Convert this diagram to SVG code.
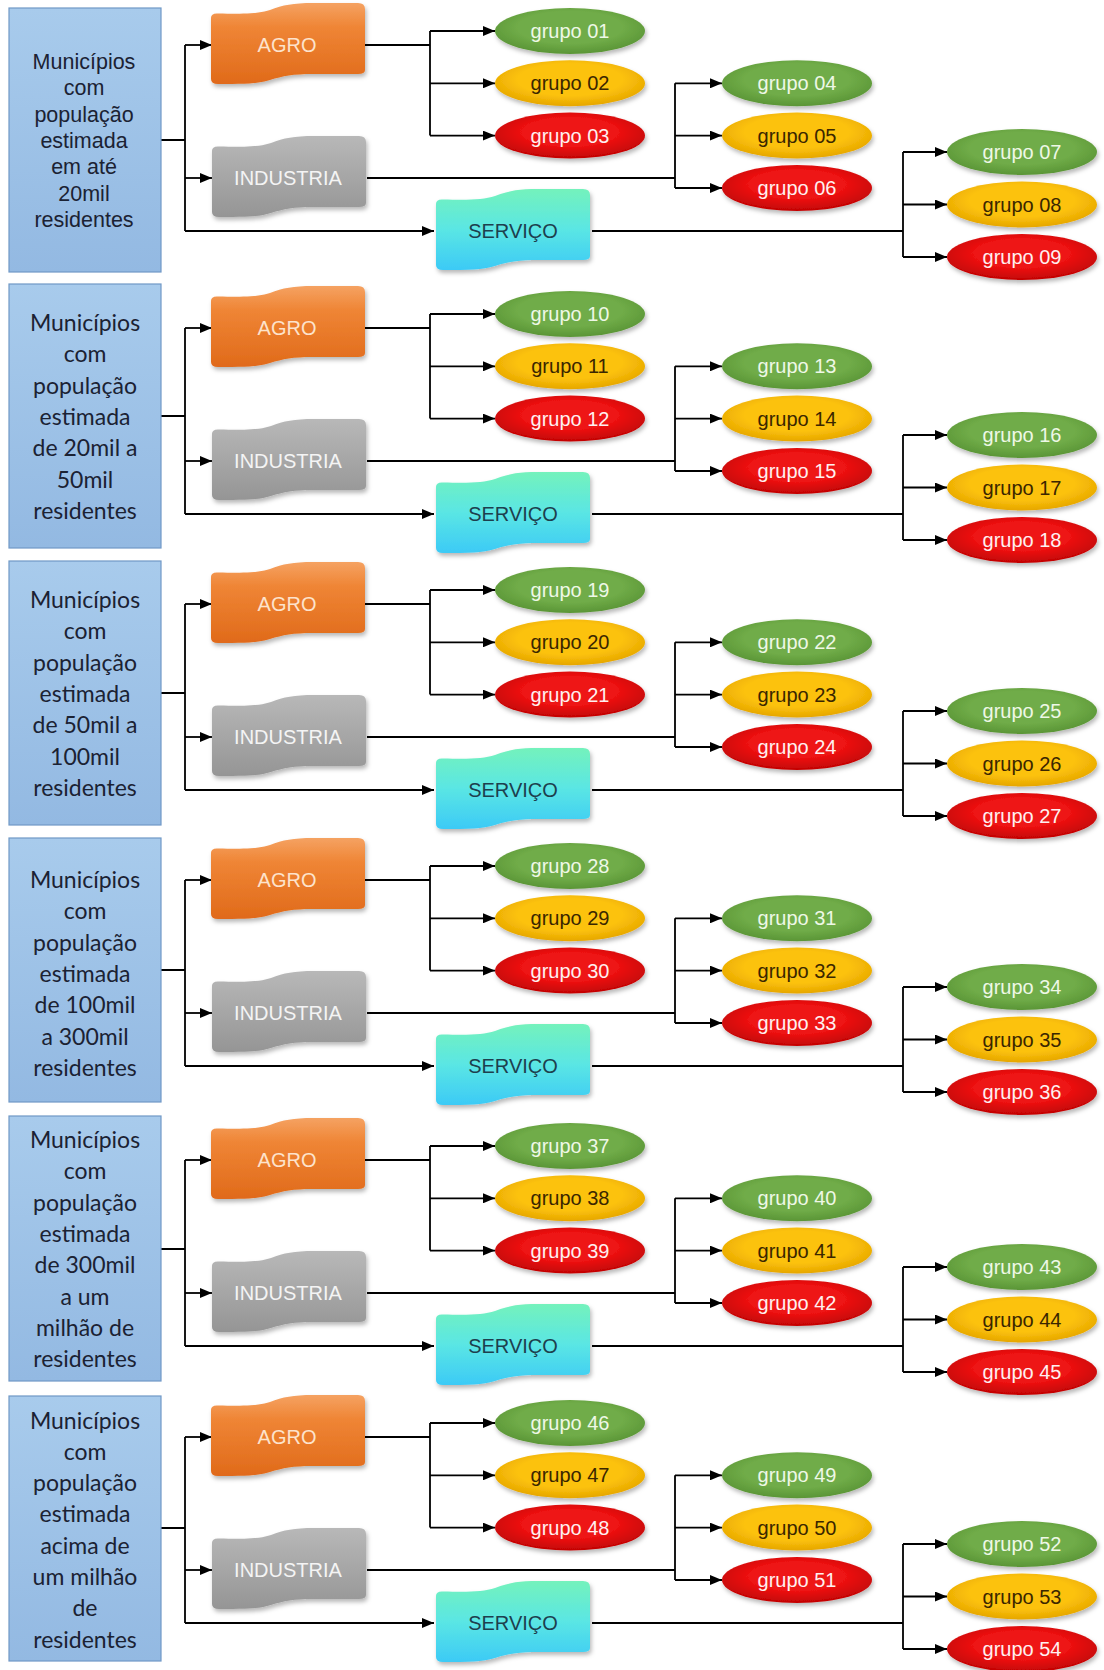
<svg xmlns="http://www.w3.org/2000/svg" xmlns:xlink="http://www.w3.org/1999/xlink" width="1104" height="1670" viewBox="0 0 1104 1670">
<style>
.box{fill:url(#gBox);stroke:#7098c6;stroke-width:1.2}
.bt1{font-family:"Liberation Sans",Arial,sans-serif;font-size:21.5px;fill:#1b2233;text-anchor:middle}
.bt2{font-family:Lato,"Liberation Sans",sans-serif;font-size:23px;fill:#1b2233;text-anchor:middle}
.lbl{font-family:"Liberation Sans",Arial,sans-serif;font-size:20px;text-anchor:middle}
.eg{fill:url(#gGreen);filter:url(#sh)}
.ey{fill:url(#gYellow);filter:url(#sh)}
.er{fill:url(#gRed);filter:url(#sh)}
.tg{fill:#eef8e6}.ty{fill:#3a2600}.tr{fill:#fff0f0}
.agro{fill:url(#gAgro);filter:url(#sh)}
.ind{fill:url(#gInd);filter:url(#sh)}
.serv{fill:url(#gServ);filter:url(#sh)}
.ta{fill:#fde3cc}.ti{fill:#f4f4f4}.ts{fill:#1d3f4e}
.ln{fill:none;stroke:#000;stroke-width:1.8}
.ar{marker-end:url(#arr)}
</style>
<defs>
<linearGradient id="gBox" x1="0" y1="0" x2="0" y2="1"><stop offset="0" stop-color="#a8cbec"/><stop offset="1" stop-color="#93b9e2"/></linearGradient>
<radialGradient id="gGreen" cx="0.5" cy="0.42" r="0.58"><stop offset="0.6" stop-color="#70ac48"/><stop offset="1" stop-color="#5a9536"/></radialGradient>
<radialGradient id="gYellow" cx="0.5" cy="0.42" r="0.58"><stop offset="0.6" stop-color="#fcc20c"/><stop offset="1" stop-color="#e6a600"/></radialGradient>
<radialGradient id="gRed" cx="0.5" cy="0.42" r="0.58"><stop offset="0.55" stop-color="#ee1212"/><stop offset="1" stop-color="#c20404"/></radialGradient>
<linearGradient id="gAgro" x1="0" y1="0" x2="0" y2="1"><stop offset="0" stop-color="#f5a262"/><stop offset="0.3" stop-color="#ef8535"/><stop offset="1" stop-color="#e06a1a"/></linearGradient>
<linearGradient id="gInd" x1="0" y1="0" x2="0" y2="1"><stop offset="0" stop-color="#b8b8b8"/><stop offset="1" stop-color="#959595"/></linearGradient>
<linearGradient id="gServ" x1="0" y1="0" x2="0" y2="1"><stop offset="0" stop-color="#74f2bc"/><stop offset="0.5" stop-color="#5ae6e4"/><stop offset="1" stop-color="#3ccaf6"/></linearGradient>
<filter id="sh" x="-15%" y="-25%" width="135%" height="160%"><feDropShadow dx="1.5" dy="3" stdDeviation="2.2" flood-color="#000" flood-opacity="0.28"/></filter>
<marker id="arr" viewBox="0 0 12 10" refX="12" refY="5" markerWidth="12" markerHeight="10" markerUnits="userSpaceOnUse" orient="auto"><path d="M0,0 L12,5 L0,10 Z" fill="#000"/></marker>
<path id="tape" d="M-77,-27 Q-77,-32 -70,-31.5 C-45,-31 -30,-31 -18,-35 C-5,-40 5,-42 25,-42 L70,-42 Q77,-42 77,-36 L77,25 Q77,29 70,29 L25,29 C5,29 -5,31 -18,35 C-30,39 -45,39 -70,39 Q-77,39 -77,34 Z"/>
</defs>
<rect width="1104" height="1670" fill="#fff"/>

<g id="connectors">
<g transform="translate(0,31)">
<path class="ln" d="M161,109 H185 M185,14 V200 M365,14 H430 M430,0 V104.6 M367,147 H675 M675,52.3 V157 M592,200 H903 M903,121 V226"/>
<path class="ln ar" d="M185,14 H212"/><path class="ln ar" d="M185,147 H212"/><path class="ln ar" d="M185,200 H434"/>
<path class="ln ar" d="M430,0 H495"/><path class="ln ar" d="M430,52.3 H495"/><path class="ln ar" d="M430,104.6 H495"/>
<path class="ln ar" d="M675,52.3 H722"/><path class="ln ar" d="M675,104.6 H722"/><path class="ln ar" d="M675,157 H722"/>
<path class="ln ar" d="M903,121 H947"/><path class="ln ar" d="M903,173.5 H947"/><path class="ln ar" d="M903,226 H947"/>
</g>
<g transform="translate(0,314)">
<path class="ln" d="M161,102 H185 M185,14 V200 M365,14 H430 M430,0 V104.6 M367,147 H675 M675,52.3 V157 M592,200 H903 M903,121 V226"/>
<path class="ln ar" d="M185,14 H212"/><path class="ln ar" d="M185,147 H212"/><path class="ln ar" d="M185,200 H434"/>
<path class="ln ar" d="M430,0 H495"/><path class="ln ar" d="M430,52.3 H495"/><path class="ln ar" d="M430,104.6 H495"/>
<path class="ln ar" d="M675,52.3 H722"/><path class="ln ar" d="M675,104.6 H722"/><path class="ln ar" d="M675,157 H722"/>
<path class="ln ar" d="M903,121 H947"/><path class="ln ar" d="M903,173.5 H947"/><path class="ln ar" d="M903,226 H947"/>
</g>
<g transform="translate(0,590)">
<path class="ln" d="M161,103 H185 M185,14 V200 M365,14 H430 M430,0 V104.6 M367,147 H675 M675,52.3 V157 M592,200 H903 M903,121 V226"/>
<path class="ln ar" d="M185,14 H212"/><path class="ln ar" d="M185,147 H212"/><path class="ln ar" d="M185,200 H434"/>
<path class="ln ar" d="M430,0 H495"/><path class="ln ar" d="M430,52.3 H495"/><path class="ln ar" d="M430,104.6 H495"/>
<path class="ln ar" d="M675,52.3 H722"/><path class="ln ar" d="M675,104.6 H722"/><path class="ln ar" d="M675,157 H722"/>
<path class="ln ar" d="M903,121 H947"/><path class="ln ar" d="M903,173.5 H947"/><path class="ln ar" d="M903,226 H947"/>
</g>
<g transform="translate(0,866)">
<path class="ln" d="M161,104 H185 M185,14 V200 M365,14 H430 M430,0 V104.6 M367,147 H675 M675,52.3 V157 M592,200 H903 M903,121 V226"/>
<path class="ln ar" d="M185,14 H212"/><path class="ln ar" d="M185,147 H212"/><path class="ln ar" d="M185,200 H434"/>
<path class="ln ar" d="M430,0 H495"/><path class="ln ar" d="M430,52.3 H495"/><path class="ln ar" d="M430,104.6 H495"/>
<path class="ln ar" d="M675,52.3 H722"/><path class="ln ar" d="M675,104.6 H722"/><path class="ln ar" d="M675,157 H722"/>
<path class="ln ar" d="M903,121 H947"/><path class="ln ar" d="M903,173.5 H947"/><path class="ln ar" d="M903,226 H947"/>
</g>
<g transform="translate(0,1146)">
<path class="ln" d="M161,103 H185 M185,14 V200 M365,14 H430 M430,0 V104.6 M367,147 H675 M675,52.3 V157 M592,200 H903 M903,121 V226"/>
<path class="ln ar" d="M185,14 H212"/><path class="ln ar" d="M185,147 H212"/><path class="ln ar" d="M185,200 H434"/>
<path class="ln ar" d="M430,0 H495"/><path class="ln ar" d="M430,52.3 H495"/><path class="ln ar" d="M430,104.6 H495"/>
<path class="ln ar" d="M675,52.3 H722"/><path class="ln ar" d="M675,104.6 H722"/><path class="ln ar" d="M675,157 H722"/>
<path class="ln ar" d="M903,121 H947"/><path class="ln ar" d="M903,173.5 H947"/><path class="ln ar" d="M903,226 H947"/>
</g>
<g transform="translate(0,1423)">
<path class="ln" d="M161,105 H185 M185,14 V200 M365,14 H430 M430,0 V104.6 M367,147 H675 M675,52.3 V157 M592,200 H903 M903,121 V226"/>
<path class="ln ar" d="M185,14 H212"/><path class="ln ar" d="M185,147 H212"/><path class="ln ar" d="M185,200 H434"/>
<path class="ln ar" d="M430,0 H495"/><path class="ln ar" d="M430,52.3 H495"/><path class="ln ar" d="M430,104.6 H495"/>
<path class="ln ar" d="M675,52.3 H722"/><path class="ln ar" d="M675,104.6 H722"/><path class="ln ar" d="M675,157 H722"/>
<path class="ln ar" d="M903,121 H947"/><path class="ln ar" d="M903,173.5 H947"/><path class="ln ar" d="M903,226 H947"/>
</g>
</g>

<!-- Left boxes -->
<g id="mun1"><rect class="box" x="9" y="8" width="152" height="264"/>
<text class="bt1" x="84" y="69"><tspan x="84">Municípios</tspan><tspan x="84" dy="26.3">com</tspan><tspan x="84" dy="26.3">população</tspan><tspan x="84" dy="26.3">estimada</tspan><tspan x="84" dy="26.3">em até</tspan><tspan x="84" dy="26.3">20mil</tspan><tspan x="84" dy="26.3">residentes</tspan></text></g>
<g id="mun2"><rect class="box" x="9" y="284" width="152" height="264"/>
<text class="bt2" x="85" y="331"><tspan x="85">Municípios</tspan><tspan x="85" dy="31.3">com</tspan><tspan x="85" dy="31.3">população</tspan><tspan x="85" dy="31.3">estimada</tspan><tspan x="85" dy="31.3">de 20mil a</tspan><tspan x="85" dy="31.3">50mil</tspan><tspan x="85" dy="31.3">residentes</tspan></text></g>
<g id="mun3"><rect class="box" x="9" y="561" width="152" height="264"/>
<text class="bt2" x="85" y="608"><tspan x="85">Municípios</tspan><tspan x="85" dy="31.3">com</tspan><tspan x="85" dy="31.3">população</tspan><tspan x="85" dy="31.3">estimada</tspan><tspan x="85" dy="31.3">de 50mil a</tspan><tspan x="85" dy="31.3">100mil</tspan><tspan x="85" dy="31.3">residentes</tspan></text></g>
<g id="mun4"><rect class="box" x="9" y="838" width="152" height="264"/>
<text class="bt2" x="85" y="888"><tspan x="85">Municípios</tspan><tspan x="85" dy="31.3">com</tspan><tspan x="85" dy="31.3">população</tspan><tspan x="85" dy="31.3">estimada</tspan><tspan x="85" dy="31.3">de 100mil</tspan><tspan x="85" dy="31.3">a 300mil</tspan><tspan x="85" dy="31.3">residentes</tspan></text></g>
<g id="mun5"><rect class="box" x="9" y="1116" width="152" height="265"/>
<text class="bt2" x="85" y="1148"><tspan x="85">Municípios</tspan><tspan x="85" dy="31.3">com</tspan><tspan x="85" dy="31.3">população</tspan><tspan x="85" dy="31.3">estimada</tspan><tspan x="85" dy="31.3">de 300mil</tspan><tspan x="85" dy="31.3">a um</tspan><tspan x="85" dy="31.3">milhão de</tspan><tspan x="85" dy="31.3">residentes</tspan></text></g>
<g id="mun6"><rect class="box" x="9" y="1396" width="152" height="265"/>
<text class="bt2" x="85" y="1428.5"><tspan x="85">Municípios</tspan><tspan x="85" dy="31.3">com</tspan><tspan x="85" dy="31.3">população</tspan><tspan x="85" dy="31.3">estimada</tspan><tspan x="85" dy="31.3">acima de</tspan><tspan x="85" dy="31.3">um milhão</tspan><tspan x="85" dy="31.3">de</tspan><tspan x="85" dy="31.3">residentes</tspan></text></g>

<!-- Section 1 -->
<g transform="translate(0,31)">
<g id="agro1"><use href="#tape" class="agro" x="288" y="14"/><text class="lbl ta" x="287" y="21">AGRO</text></g>
<g id="industria1"><use href="#tape" class="ind" x="289" y="147"/><text class="lbl ti" x="288" y="154">INDUSTRIA</text></g>
<g id="servico1"><use href="#tape" class="serv" x="513" y="200"/><text class="lbl ts" x="513" y="207">SERVIÇO</text></g>
<g id="grupo01"><ellipse class="eg" cx="570" cy="0" rx="75" ry="23"/><text class="lbl tg" x="570" y="7">grupo 01</text></g>
<g id="grupo02"><ellipse class="ey" cx="570" cy="52.3" rx="75" ry="23"/><text class="lbl ty" x="570" y="59.3">grupo 02</text></g>
<g id="grupo03"><ellipse class="er" cx="570" cy="104.6" rx="75" ry="23"/><text class="lbl tr" x="570" y="111.6">grupo 03</text></g>
<g id="grupo04"><ellipse class="eg" cx="797" cy="52.3" rx="75" ry="23"/><text class="lbl tg" x="797" y="59.3">grupo 04</text></g>
<g id="grupo05"><ellipse class="ey" cx="797" cy="104.6" rx="75" ry="23"/><text class="lbl ty" x="797" y="111.6">grupo 05</text></g>
<g id="grupo06"><ellipse class="er" cx="797" cy="157" rx="75" ry="23"/><text class="lbl tr" x="797" y="164">grupo 06</text></g>
<g id="grupo07"><ellipse class="eg" cx="1022" cy="121" rx="75" ry="23"/><text class="lbl tg" x="1022" y="128">grupo 07</text></g>
<g id="grupo08"><ellipse class="ey" cx="1022" cy="173.5" rx="75" ry="23"/><text class="lbl ty" x="1022" y="180.5">grupo 08</text></g>
<g id="grupo09"><ellipse class="er" cx="1022" cy="226" rx="75" ry="23"/><text class="lbl tr" x="1022" y="233">grupo 09</text></g>
</g>

<!-- Section 2 -->
<g transform="translate(0,314)">
<g id="agro2"><use href="#tape" class="agro" x="288" y="14"/><text class="lbl ta" x="287" y="21">AGRO</text></g>
<g id="industria2"><use href="#tape" class="ind" x="289" y="147"/><text class="lbl ti" x="288" y="154">INDUSTRIA</text></g>
<g id="servico2"><use href="#tape" class="serv" x="513" y="200"/><text class="lbl ts" x="513" y="207">SERVIÇO</text></g>
<g id="grupo10"><ellipse class="eg" cx="570" cy="0" rx="75" ry="23"/><text class="lbl tg" x="570" y="7">grupo 10</text></g>
<g id="grupo11"><ellipse class="ey" cx="570" cy="52.3" rx="75" ry="23"/><text class="lbl ty" x="570" y="59.3">grupo 11</text></g>
<g id="grupo12"><ellipse class="er" cx="570" cy="104.6" rx="75" ry="23"/><text class="lbl tr" x="570" y="111.6">grupo 12</text></g>
<g id="grupo13"><ellipse class="eg" cx="797" cy="52.3" rx="75" ry="23"/><text class="lbl tg" x="797" y="59.3">grupo 13</text></g>
<g id="grupo14"><ellipse class="ey" cx="797" cy="104.6" rx="75" ry="23"/><text class="lbl ty" x="797" y="111.6">grupo 14</text></g>
<g id="grupo15"><ellipse class="er" cx="797" cy="157" rx="75" ry="23"/><text class="lbl tr" x="797" y="164">grupo 15</text></g>
<g id="grupo16"><ellipse class="eg" cx="1022" cy="121" rx="75" ry="23"/><text class="lbl tg" x="1022" y="128">grupo 16</text></g>
<g id="grupo17"><ellipse class="ey" cx="1022" cy="173.5" rx="75" ry="23"/><text class="lbl ty" x="1022" y="180.5">grupo 17</text></g>
<g id="grupo18"><ellipse class="er" cx="1022" cy="226" rx="75" ry="23"/><text class="lbl tr" x="1022" y="233">grupo 18</text></g>
</g>

<!-- Section 3 -->
<g transform="translate(0,590)">
<g id="agro3"><use href="#tape" class="agro" x="288" y="14"/><text class="lbl ta" x="287" y="21">AGRO</text></g>
<g id="industria3"><use href="#tape" class="ind" x="289" y="147"/><text class="lbl ti" x="288" y="154">INDUSTRIA</text></g>
<g id="servico3"><use href="#tape" class="serv" x="513" y="200"/><text class="lbl ts" x="513" y="207">SERVIÇO</text></g>
<g id="grupo19"><ellipse class="eg" cx="570" cy="0" rx="75" ry="23"/><text class="lbl tg" x="570" y="7">grupo 19</text></g>
<g id="grupo20"><ellipse class="ey" cx="570" cy="52.3" rx="75" ry="23"/><text class="lbl ty" x="570" y="59.3">grupo 20</text></g>
<g id="grupo21"><ellipse class="er" cx="570" cy="104.6" rx="75" ry="23"/><text class="lbl tr" x="570" y="111.6">grupo 21</text></g>
<g id="grupo22"><ellipse class="eg" cx="797" cy="52.3" rx="75" ry="23"/><text class="lbl tg" x="797" y="59.3">grupo 22</text></g>
<g id="grupo23"><ellipse class="ey" cx="797" cy="104.6" rx="75" ry="23"/><text class="lbl ty" x="797" y="111.6">grupo 23</text></g>
<g id="grupo24"><ellipse class="er" cx="797" cy="157" rx="75" ry="23"/><text class="lbl tr" x="797" y="164">grupo 24</text></g>
<g id="grupo25"><ellipse class="eg" cx="1022" cy="121" rx="75" ry="23"/><text class="lbl tg" x="1022" y="128">grupo 25</text></g>
<g id="grupo26"><ellipse class="ey" cx="1022" cy="173.5" rx="75" ry="23"/><text class="lbl ty" x="1022" y="180.5">grupo 26</text></g>
<g id="grupo27"><ellipse class="er" cx="1022" cy="226" rx="75" ry="23"/><text class="lbl tr" x="1022" y="233">grupo 27</text></g>
</g>

<!-- Section 4 -->
<g transform="translate(0,866)">
<g id="agro4"><use href="#tape" class="agro" x="288" y="14"/><text class="lbl ta" x="287" y="21">AGRO</text></g>
<g id="industria4"><use href="#tape" class="ind" x="289" y="147"/><text class="lbl ti" x="288" y="154">INDUSTRIA</text></g>
<g id="servico4"><use href="#tape" class="serv" x="513" y="200"/><text class="lbl ts" x="513" y="207">SERVIÇO</text></g>
<g id="grupo28"><ellipse class="eg" cx="570" cy="0" rx="75" ry="23"/><text class="lbl tg" x="570" y="7">grupo 28</text></g>
<g id="grupo29"><ellipse class="ey" cx="570" cy="52.3" rx="75" ry="23"/><text class="lbl ty" x="570" y="59.3">grupo 29</text></g>
<g id="grupo30"><ellipse class="er" cx="570" cy="104.6" rx="75" ry="23"/><text class="lbl tr" x="570" y="111.6">grupo 30</text></g>
<g id="grupo31"><ellipse class="eg" cx="797" cy="52.3" rx="75" ry="23"/><text class="lbl tg" x="797" y="59.3">grupo 31</text></g>
<g id="grupo32"><ellipse class="ey" cx="797" cy="104.6" rx="75" ry="23"/><text class="lbl ty" x="797" y="111.6">grupo 32</text></g>
<g id="grupo33"><ellipse class="er" cx="797" cy="157" rx="75" ry="23"/><text class="lbl tr" x="797" y="164">grupo 33</text></g>
<g id="grupo34"><ellipse class="eg" cx="1022" cy="121" rx="75" ry="23"/><text class="lbl tg" x="1022" y="128">grupo 34</text></g>
<g id="grupo35"><ellipse class="ey" cx="1022" cy="173.5" rx="75" ry="23"/><text class="lbl ty" x="1022" y="180.5">grupo 35</text></g>
<g id="grupo36"><ellipse class="er" cx="1022" cy="226" rx="75" ry="23"/><text class="lbl tr" x="1022" y="233">grupo 36</text></g>
</g>

<!-- Section 5 -->
<g transform="translate(0,1146)">
<g id="agro5"><use href="#tape" class="agro" x="288" y="14"/><text class="lbl ta" x="287" y="21">AGRO</text></g>
<g id="industria5"><use href="#tape" class="ind" x="289" y="147"/><text class="lbl ti" x="288" y="154">INDUSTRIA</text></g>
<g id="servico5"><use href="#tape" class="serv" x="513" y="200"/><text class="lbl ts" x="513" y="207">SERVIÇO</text></g>
<g id="grupo37"><ellipse class="eg" cx="570" cy="0" rx="75" ry="23"/><text class="lbl tg" x="570" y="7">grupo 37</text></g>
<g id="grupo38"><ellipse class="ey" cx="570" cy="52.3" rx="75" ry="23"/><text class="lbl ty" x="570" y="59.3">grupo 38</text></g>
<g id="grupo39"><ellipse class="er" cx="570" cy="104.6" rx="75" ry="23"/><text class="lbl tr" x="570" y="111.6">grupo 39</text></g>
<g id="grupo40"><ellipse class="eg" cx="797" cy="52.3" rx="75" ry="23"/><text class="lbl tg" x="797" y="59.3">grupo 40</text></g>
<g id="grupo41"><ellipse class="ey" cx="797" cy="104.6" rx="75" ry="23"/><text class="lbl ty" x="797" y="111.6">grupo 41</text></g>
<g id="grupo42"><ellipse class="er" cx="797" cy="157" rx="75" ry="23"/><text class="lbl tr" x="797" y="164">grupo 42</text></g>
<g id="grupo43"><ellipse class="eg" cx="1022" cy="121" rx="75" ry="23"/><text class="lbl tg" x="1022" y="128">grupo 43</text></g>
<g id="grupo44"><ellipse class="ey" cx="1022" cy="173.5" rx="75" ry="23"/><text class="lbl ty" x="1022" y="180.5">grupo 44</text></g>
<g id="grupo45"><ellipse class="er" cx="1022" cy="226" rx="75" ry="23"/><text class="lbl tr" x="1022" y="233">grupo 45</text></g>
</g>

<!-- Section 6 -->
<g transform="translate(0,1423)">
<g id="agro6"><use href="#tape" class="agro" x="288" y="14"/><text class="lbl ta" x="287" y="21">AGRO</text></g>
<g id="industria6"><use href="#tape" class="ind" x="289" y="147"/><text class="lbl ti" x="288" y="154">INDUSTRIA</text></g>
<g id="servico6"><use href="#tape" class="serv" x="513" y="200"/><text class="lbl ts" x="513" y="207">SERVIÇO</text></g>
<g id="grupo46"><ellipse class="eg" cx="570" cy="0" rx="75" ry="23"/><text class="lbl tg" x="570" y="7">grupo 46</text></g>
<g id="grupo47"><ellipse class="ey" cx="570" cy="52.3" rx="75" ry="23"/><text class="lbl ty" x="570" y="59.3">grupo 47</text></g>
<g id="grupo48"><ellipse class="er" cx="570" cy="104.6" rx="75" ry="23"/><text class="lbl tr" x="570" y="111.6">grupo 48</text></g>
<g id="grupo49"><ellipse class="eg" cx="797" cy="52.3" rx="75" ry="23"/><text class="lbl tg" x="797" y="59.3">grupo 49</text></g>
<g id="grupo50"><ellipse class="ey" cx="797" cy="104.6" rx="75" ry="23"/><text class="lbl ty" x="797" y="111.6">grupo 50</text></g>
<g id="grupo51"><ellipse class="er" cx="797" cy="157" rx="75" ry="23"/><text class="lbl tr" x="797" y="164">grupo 51</text></g>
<g id="grupo52"><ellipse class="eg" cx="1022" cy="121" rx="75" ry="23"/><text class="lbl tg" x="1022" y="128">grupo 52</text></g>
<g id="grupo53"><ellipse class="ey" cx="1022" cy="173.5" rx="75" ry="23"/><text class="lbl ty" x="1022" y="180.5">grupo 53</text></g>
<g id="grupo54"><ellipse class="er" cx="1022" cy="226" rx="75" ry="23"/><text class="lbl tr" x="1022" y="233">grupo 54</text></g>
</g>
</svg>
